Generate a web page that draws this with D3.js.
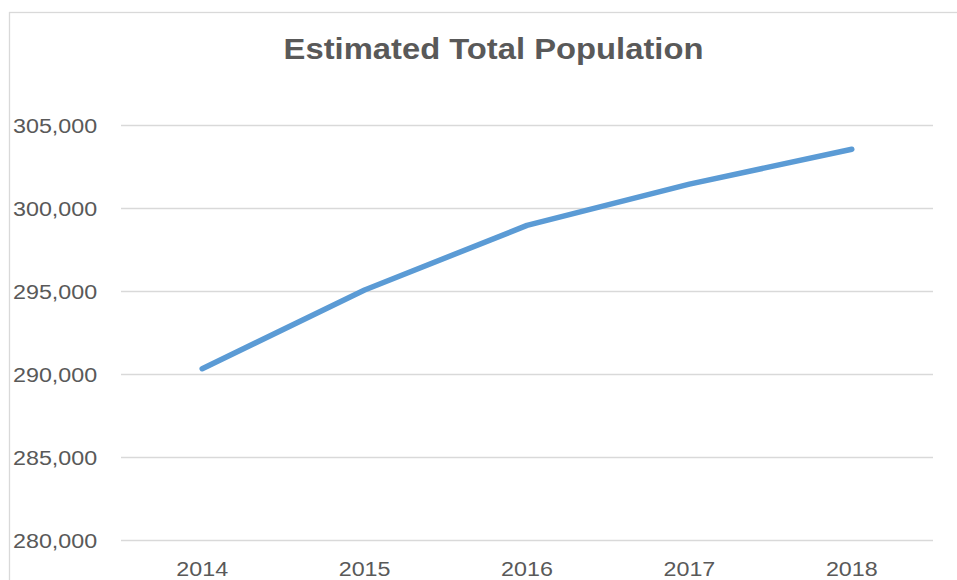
<!DOCTYPE html>
<html>
<head>
<meta charset="utf-8">
<script src="https://cdn.jsdelivr.net/npm/d3@7"></script>
<style>
  html, body { margin: 0; padding: 0; background: #fff; }
  svg { display: block; }
  text { font-family: "Liberation Sans", Arial, sans-serif; fill: #595959; }
</style>
</head>
<body>
<svg id="chart" width="957" height="580"></svg>
<script>
const years = ["2014", "2015", "2016", "2017", "2018"];
const population = [290320, 295060, 298950, 301440, 303540];
const yTicks = [280000, 285000, 290000, 295000, 300000, 305000];
const title = "Estimated Total Population";

const svg = d3.select("#chart");
const plot = { left: 121, right: 933, top: 125, bottom: 540 };
const sx = 1.11;

// chart border
svg.append("rect")
  .attr("x", 9.5).attr("y", 12.5)
  .attr("width", 960).attr("height", 600)
  .attr("fill", "none").attr("stroke", "#d9d9d9").attr("stroke-width", 1.3);

const x = d3.scaleBand().domain(years).range([plot.left, plot.right]).padding(0);
const y = d3.scaleLinear().domain([280000, 305000]).range([plot.bottom, plot.top]);

// Y axis with gridlines
const yAxis = d3.axisLeft(y)
  .tickValues(yTicks)
  .tickSize(-(plot.right - plot.left))
  .tickFormat(d3.format(","));
const gy = svg.append("g").attr("transform", `translate(${plot.left},0)`).call(yAxis);
gy.select(".domain").remove();
gy.selectAll(".tick line").attr("stroke", "#d9d9d9").attr("stroke-width", 1.3);
gy.selectAll(".tick text")
  .attr("x", null).attr("dy", null)
  .attr("text-anchor", "start")
  .attr("transform", `translate(${13 - plot.left},7.5) scale(${sx},1)`)
  .style("font-size", "21px")
  .style("font-family", "'Liberation Sans', Arial, sans-serif")
  .attr("fill", "#595959");

// X axis labels
const xAxis = d3.axisBottom(x).tickSize(0).tickPadding(0);
const gx = svg.append("g").attr("transform", `translate(0,${plot.bottom})`).call(xAxis);
gx.select(".domain").remove();
gx.selectAll(".tick text")
  .attr("y", null).attr("dy", null)
  .attr("text-anchor", "middle")
  .attr("transform", `translate(0,35.5) scale(${sx},1)`)
  .style("font-size", "21px")
  .style("font-family", "'Liberation Sans', Arial, sans-serif")
  .attr("fill", "#595959");

// Line
const line = d3.line()
  .x((d, i) => x(years[i]) + x.bandwidth() / 2)
  .y(d => y(d));
svg.append("path")
  .datum(population)
  .attr("d", line)
  .attr("fill", "none")
  .attr("stroke", "#5b9bd5")
  .attr("stroke-width", 5.5)
  .attr("stroke-linecap", "round")
  .attr("stroke-linejoin", "round");

// Title
svg.append("text")
  .attr("text-anchor", "middle")
  .attr("transform", `translate(493.5,58.5) scale(1.13,1)`)
  .style("font-size", "29px")
  .style("font-weight", "bold")
  .text(title);
</script>
</body>
</html>
